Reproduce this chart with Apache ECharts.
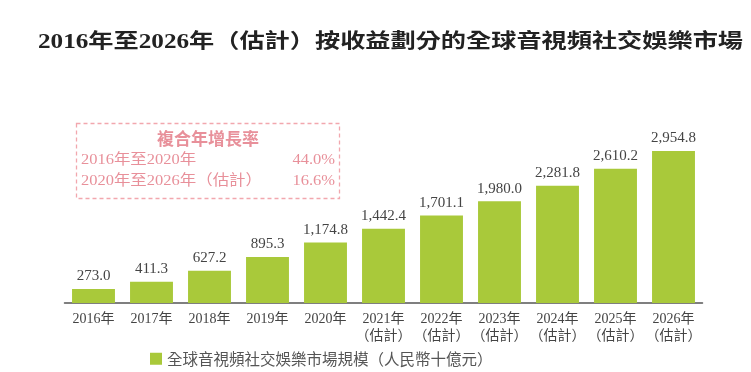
<!DOCTYPE html>
<html><head><meta charset="utf-8">
<script src="https://cdn.jsdelivr.net/npm/echarts@6/dist/echarts.min.js"></script>
<style>html,body{margin:0;padding:0;background:#fff}#c{width:751px;height:372px}</style>
</head><body><div id="c"></div>
<script>
const titleText = '2016年至2026年（估計）按收益劃分的全球音視頻社交娛樂市場';
const categories = ['2016年','2017年','2018年','2019年','2020年','2021年\n（估計）','2022年\n（估計）','2023年\n（估計）','2024年\n（估計）','2025年\n（估計）','2026年\n（估計）'];
const values = [273.0, 411.3, 627.2, 895.3, 1174.8, 1442.4, 1701.1, 1980.0, 2281.8, 2610.2, 2954.8];
const seriesName = '全球音視頻社交娛樂市場規模（人民幣十億元）';
const cagrTitle = '複合年增長率';
const cagrPeriods = ['2016年至2020年', '2020年至2026年（估計）'];
const cagrValues = ['44.0%', '16.6%'];

const SERIF = '"Liberation Serif","Noto Sans CJK TC",serif';
const pink = '#e8909a';

function measure(text, font){
  const c = document.createElement('canvas').getContext('2d');
  c.font = font; return c.measureText(text).width;
}
const titleFont = 'bold 20px ' + SERIF;
const tW = measure(titleText, titleFont);
const tScale = 705 / tW;
const rowFont = '15px ' + SERIF;
const r2W = measure(cagrPeriods[1], rowFont);
const rScale = 181 / r2W;

const chart = echarts.init(document.getElementById('c'));
const graphics = [
  {type:'text', left:38, top:33, scaleX:tScale, style:{text:titleText, font:titleFont, fill:'#222'}},
  {type:'rect', shape:{x:76.5, y:123.5, width:263, height:75}, style:{fill:'none', stroke:'#f2a7ae', lineWidth:1.3, lineDash:[4,3]}},
  {type:'text', x:208, y:139, style:{text:cagrTitle, font:'bold 17px "Noto Sans CJK TC",sans-serif', fill:pink, textAlign:'center', textVerticalAlign:'middle'}}
];
cagrPeriods.forEach((p,i)=>{
  graphics.push({type:'text', x:81, y:160+i*21, scaleX:rScale, originX:0, style:{text:p, font:rowFont, fill:pink, textVerticalAlign:'middle'}});
  graphics.push({type:'text', x:335, y:160+i*21, scaleX:1.1, originX:0, style:{text:cagrValues[i], font:rowFont, fill:pink, textAlign:'right', textVerticalAlign:'middle'}});
});

chart.setOption({
  animation:false,
  graphic: graphics,
  legend:{data:[seriesName], left:145, top:346, itemWidth:12, itemHeight:12, itemGap:7, icon:'rect',
    textStyle:{fontFamily:'"Noto Sans CJK TC",sans-serif', fontSize:15.5, color:'#555'}},
  grid:{left:64.5, right:48.5, top:148.7, bottom:69},
  xAxis:{type:'category', data:categories,
    axisLine:{lineStyle:{color:'#555', width:1.5}}, axisTick:{show:false},
    axisLabel:{fontFamily:SERIF, fontSize:14, color:'#444', margin:8, lineHeight:17, interval:0}},
  yAxis:{type:'value', min:0, max:3000, show:false, splitLine:{show:false}},
  series:[{name:seriesName, type:'bar', data:values, barCategoryGap:'26%',
    itemStyle:{color:'#a9c93a'},
    label:{show:true, position:'top', distance:5, fontFamily:SERIF, fontSize:15, color:'#444',
      formatter:p=>p.value.toLocaleString('en-US',{minimumFractionDigits:1, maximumFractionDigits:1})}}]
});
</script></body></html>
